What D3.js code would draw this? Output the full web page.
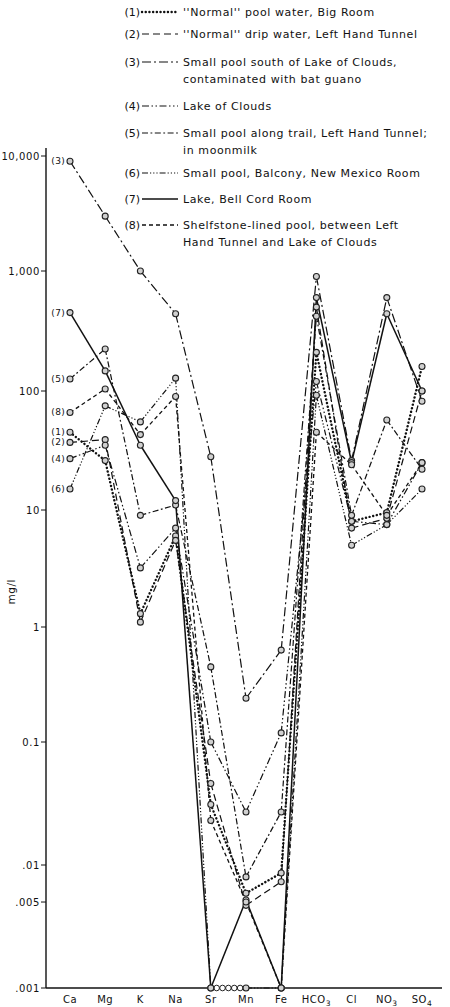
<!DOCTYPE html>
<html>
<head>
<meta charset="utf-8">
<script src="https://cdn.jsdelivr.net/npm/d3@7"></script>
<style>
  body { margin: 0; background: #fff; }
  svg text { font-family: "DejaVu Sans", sans-serif; fill: #111; }
</style>
</head>
<body>
<div id="chart"></div>
<script>
// Ions on the x axis
const elements = ["Ca", "Mg", "K", "Na", "Sr", "Mn", "Fe", "HCO3", "Cl", "NO3", "SO4"];

// mg/l per sample, same order as elements (0.001 = below detection)
const s1 = [45, 26, 1.3, 6, 0.031, 0.0059, 0.0086, 210, 8, 9.5, 160];
const s2 = [37, 39, 1.1, 5.5, 0.046, 0.0047, 0.0073, 500, 7, 8.5, 100];
const s3 = [9000, 3000, 1000, 440, 28, 0.24, 0.63, 900, 26, 600, 82];
const s4 = [27, 35, 3.2, 7, 0.1, 0.027, 0.12, 120, 8, 7.5, 25];
const s5 = [126, 224, 9, 11, 0.45, 0.008, 0.027, 420, 9, 57, 22];
const s6 = [15, 75, 55, 128, 0.001, 0.001, 0.001, 92, 5, 7.5, 15];
const s7 = [450, 147, 35, 12, 0.001, 0.0052, 0.001, 600, 25, 440, 100];
const s8 = [66, 104, 43, 90, 0.023, 0.005, 0.001, 45, 24, 9, 25];

const seriesNames = ["(1)", "(2)", "(3)", "(4)", "(5)", "(6)", "(7)", "(8)"];
const legendText = [
  ["''Normal'' pool water, Big Room"],
  ["''Normal'' drip water, Left Hand Tunnel"],
  ["Small pool south of Lake of Clouds,", "contaminated with bat guano"],
  ["Lake of Clouds"],
  ["Small pool along trail, Left Hand Tunnel;", "in moonmilk"],
  ["Small pool, Balcony, New Mexico Room"],
  ["Lake, Bell Cord Room"],
  ["Shelfstone-lined pool, between Left", "Hand Tunnel and Lake of Clouds"]
];

const tickValues = [10000, 1000, 100, 10, 1, 0.1, 0.01, 0.005, 0.001];
const tickLabels = ["10,000", "1,000", "100", "10", "1", "0.1", ".01", ".005", ".001"];

const detectionLimit = 0.001;

// line styles per sample
const styles = [
  { dash: "0.1,3.6", width: 2.4, cap: "round" },
  { dash: "7,4", width: 1.2 },
  { dash: "9,3,2,3", width: 1.2 },
  { dash: "7,2.5,1.5,2.5,1.5,2.5", width: 1.2 },
  { dash: "6,2.5,1.8,2.5", width: 1.2 },
  { dash: "6,2,1.2,2,1.2,2,1.2,2", width: 1.2 },
  { dash: null, width: 1.5 },
  { dash: "4,3", width: 1.3 }
];

const series = [s1, s2, s3, s4, s5, s6, s7, s8];

const width = 450, height = 1007;
const svg = d3.select("#chart").append("svg")
  .attr("width", width).attr("height", height);

const x = d3.scalePoint().domain(elements).range([70, 422]);
// log scale, one piece per decade to follow the printed tick spacing
const y = d3.scaleLog()
  .domain([0.001, 0.01, 0.1, 1, 10, 100, 1000, 10000])
  .range([988, 865, 742, 627, 510, 391, 271, 156]);

// axes
svg.append("line").attr("x1", 46).attr("x2", 46).attr("y1", 148).attr("y2", y(0.001))
  .attr("stroke", "#111").attr("stroke-width", 1.4);
svg.append("line").attr("x1", 46).attr("x2", 442).attr("y1", y(0.001)).attr("y2", y(0.001))
  .attr("stroke", "#111").attr("stroke-width", 1.4);

tickValues.forEach((v, i) => {
  svg.append("line").attr("x1", 41).attr("x2", 46).attr("y1", y(v)).attr("y2", y(v))
    .attr("stroke", "#111").attr("stroke-width", 1);
  svg.append("text").attr("x", 40).attr("y", y(v)).attr("dy", "0.35em")
    .attr("text-anchor", "end").attr("font-size", 10).attr("letter-spacing", 0.6)
    .text(tickLabels[i]);
});

svg.append("text").attr("transform", `translate(15,${y(2)}) rotate(-90)`)
  .attr("text-anchor", "middle").attr("font-size", 10.5).attr("letter-spacing", 0.5)
  .text("mg/l");

// x labels with subscripts
elements.forEach(el => {
  const m = el.match(/^([A-Za-z]+?)(\d*)$/);
  const t = svg.append("text").attr("x", x(el)).attr("y", 1003)
    .attr("text-anchor", "middle").attr("font-size", 10).attr("letter-spacing", 0.5);
  t.append("tspan").text(m[1]);
  if (m[2]) t.append("tspan").attr("dy", 3).attr("font-size", 7.5).text(m[2]);
});

function applyStyle(sel, st) {
  sel.attr("fill", "none").attr("stroke", "#111")
    .attr("stroke-width", st.width)
    .attr("stroke-dasharray", st.dash)
    .attr("stroke-linecap", st.cap || "butt");
}

// lines
series.forEach((vals, si) => {
  const st = styles[si];
  for (let i = 0; i < vals.length - 1; i++) {
    const a = vals[i], b = vals[i + 1];
    // both ends below detection between Sr and Mn: drawn as a chain of rings
    if (a === detectionLimit && b === detectionLimit && elements[i] === "Sr") {
      const x0 = x(elements[i]), x1 = x(elements[i + 1]);
      d3.range(1, 6).forEach(k => {
        svg.append("circle").attr("cx", x0 + (x1 - x0) * k / 6).attr("cy", y(a))
          .attr("r", 2.8).attr("fill", "#fff").attr("stroke", "#222").attr("stroke-width", 1);
      });
      continue;
    }
    svg.append("line")
      .attr("x1", x(elements[i])).attr("y1", y(a))
      .attr("x2", x(elements[i + 1])).attr("y2", y(b))
      .call(applyStyle, st);
  }
});

// points
series.forEach(vals => {
  svg.append("g").selectAll("circle").data(vals).join("circle")
    .attr("cx", (d, i) => x(elements[i])).attr("cy", d => y(d))
    .attr("r", 3).attr("fill", "#d0d0d0").attr("stroke", "#222").attr("stroke-width", 1.1);
});

// sample labels beside Ca
series.forEach((vals, si) => {
  svg.append("text").attr("x", x("Ca") - 5).attr("y", y(vals[0])).attr("dy", "0.33em")
    .attr("text-anchor", "end").attr("font-size", 9).attr("letter-spacing", 0.3)
    .text(seriesNames[si]);
});

// legend
const legendY = [12, 34, 62, 106, 133, 173, 199, 225];
seriesNames.forEach((name, si) => {
  const ly = legendY[si];
  svg.append("text").attr("x", 140).attr("y", ly).attr("dy", "0.35em")
    .attr("text-anchor", "end").attr("font-size", 11).text(name);
  svg.append("line").attr("x1", 142).attr("x2", 178).attr("y1", ly).attr("y2", ly)
    .call(applyStyle, styles[si]);
  legendText[si].forEach((txt, k) => {
    svg.append("text").attr("x", 183).attr("y", ly + k * 17).attr("dy", "0.35em")
      .attr("font-size", 11).attr("letter-spacing", 0.6).text(txt);
  });
});
</script>
</body>
</html>
